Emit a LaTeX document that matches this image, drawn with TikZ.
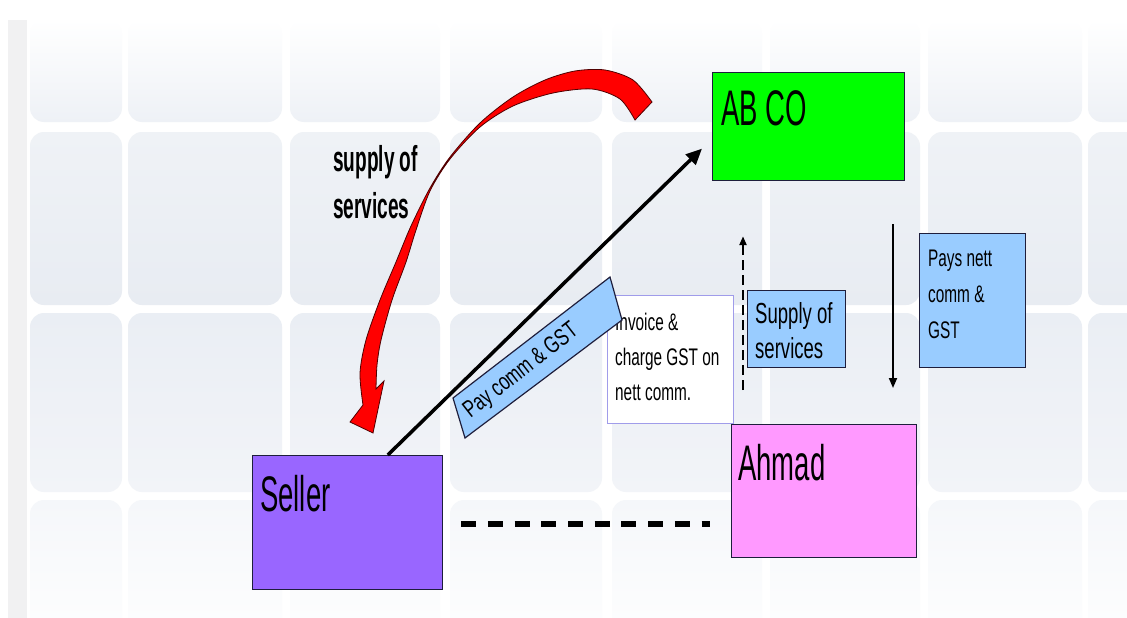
\documentclass[tikz,border=0pt]{standalone}
\usepackage{fontspec}
\setmainfont{Liberation Sans}
\newfontfamily\bigf[FakeStretch=0.55]{Liberation Sans}
\newfontfamily\smf[FakeStretch=0.64]{Liberation Sans}
\newfontfamily\payf[FakeStretch=0.72]{Liberation Sans}
\newfontfamily\bldf[FakeStretch=0.53]{Liberation Sans}
\usetikzlibrary{arrows.meta,calc}
\definecolor{abgreen}{HTML}{00FF00}
\definecolor{sellerpurple}{HTML}{9966FF}
\definecolor{ahmadpink}{HTML}{FF99FF}
\definecolor{noteblue}{HTML}{99CCFF}
\definecolor{boxline}{HTML}{1E1E3C}
\definecolor{invline}{HTML}{A09CEA}
\definecolor{redarrow}{HTML}{FF0000}
\definecolor{redline}{HTML}{500000}
\definecolor{stripgray}{HTML}{F1F1F2}
\definecolor{rowAb}{RGB}{238,241,246}
\definecolor{rowBt}{RGB}{239,242,246}
\definecolor{rowBb}{RGB}{232,236,242}
\definecolor{rowCt}{RGB}{234,238,244}
\definecolor{rowCb}{RGB}{242,244,248}
\definecolor{rowDt}{RGB}{245,247,250}
\begin{document}
\begin{tikzpicture}[x=1pt,y=-1pt,
  box/.style={draw=boxline, line width=1.2pt, inner sep=0pt, anchor=north west},
  note/.style={box, fill=noteblue},
  lbl/.style={inner sep=0pt, anchor=north west, align=left, text=black},
  bigl/.style={inner sep=0pt, anchor=base west, text=black, font=\bigf\fontsize{50}{56}\selectfont},
  flow/.style={draw=black, line width=3.5pt, -{Triangle[length=16pt,width=14pt]}},
  dashflow/.style={draw=black, line width=2.5pt, dash pattern=on 10pt off 5pt, -{Triangle[length=9pt,width=7pt]}},
  thinflow/.style={draw=black, line width=1.8pt, -{Triangle[length=10pt,width=8pt]}},
  link/.style={draw=black, line width=5.5pt, dash pattern=on 15pt off 11.7pt}
]
\useasboundingbox (0,0) rectangle (1127,618);
\fill[white] (0,0) rectangle (1127,618);
% background tiles
\begin{scope}
\clip (0,0) rectangle (1127,618);
\foreach \xa/\xb in {30/122,128/282,290/440,450/602,612/762,770/920,928/1082,1088/1160}{
  \shade[rounded corners=14pt, top color=white, bottom color=rowAb] (\xa,20) rectangle (\xb,122);
  \shade[rounded corners=14pt, top color=rowBt, bottom color=rowBb] (\xa,132) rectangle (\xb,305);
  \shade[rounded corners=14pt, top color=rowCt, bottom color=rowCb] (\xa,313) rectangle (\xb,492);
  \shade[rounded corners=14pt, top color=rowDt, bottom color=white] (\xa,500) rectangle (\xb,660);
}
\end{scope}
\fill[stripgray] (8,20) rectangle (27,618);

% boxes
\node[box, fill=abgreen, minimum width=192pt, minimum height=108pt] (abco) at (712,72) {};
\node[box, fill=sellerpurple, minimum width=190pt, minimum height=134pt] (seller) at (252,455) {};
\node[box, fill=ahmadpink, minimum width=185pt, minimum height=133pt] (ahmad) at (731,424) {};
\node[box, draw=invline, fill=white, minimum width=126pt, minimum height=128pt] (invoice) at (607,295) {};
\node[note, minimum width=98pt, minimum height=77pt] (supplybox) at (747,290) {};
\node[note, minimum width=106pt, minimum height=134pt] (paysbox) at (919,233) {};

% box texts
\node[bigl] (abcotext) at (721,125) {AB CO};
\node[bigl] (sellertext) at (260,511) {Seller};
\node[bigl] (ahmadtext) at (738,480) {Ahmad};
\node[lbl, font=\smf\fontsize{24}{35}\selectfont] (invoicetext) at (615,313) {Invoice \&\\charge GST on\\nett comm.};
\node[lbl, font=\smf\fontsize{29}{35}\selectfont] (supplytext) at (755,302) {Supply of\\services};
\node[lbl, font=\smf\fontsize{24}{36}\selectfont] (paystext) at (928,250) {Pays nett\\comm \&\\GST};
\node[lbl, font=\bldf\bfseries\fontsize{36}{47}\selectfont] (servicelabel) at (333,145) {supply of\\services};

% rotated pay note (drawn over the invoice box)
\filldraw[fill=noteblue, draw=boxline, line width=1.2pt] (453,398) -- (610,277) -- (622,320) -- (465,438) -- cycle;
\node[inner sep=0pt, anchor=base, rotate=38, font=\payf\fontsize{24}{28}\selectfont] (paytext) at (525,376) {Pay comm \& GST};

% red curved block arrow
\filldraw[fill=redarrow, draw=redline, line width=0.8pt]
  plot[smooth, tension=0.5] coordinates {(652,102) (633,80) (605,70) (575,71) (545,80) (513,97) (480,123) (450,157) (430,188) (411,226) (396,262) (380,300) (366,340) (360,373) (363,405)}
  -- (350,422) -- (373,433) -- (384,381) -- (376,389)
  -- plot[smooth, tension=0.5] coordinates {(376,389) (377,365) (381,340) (392,300) (406,262) (416,230) (430,191) (450,159) (480,127) (513,106) (553,93) (592,89) (620,99) (635,120)}
  -- cycle;

% connectors
\coordinate (sellerout) at ($(seller.north west)!0.71!(seller.north east)$);
\coordinate (abcoin) at ([xshift=-10pt,yshift=-22pt]abco.west);
\draw[flow] (sellerout) -- (abcoin);
\coordinate (xa) at (743,0);
\coordinate (xb) at (893,0);
\coordinate (yh) at (0,524);
\draw[dashflow, shorten <=34pt, shorten >=55pt] (ahmad.north -| xa) -- (abco.south -| xa);
\draw[thinflow, shorten <=43pt, shorten >=36pt] (abco.south -| xb) -- (ahmad.north -| xb);
\draw[link, shorten <=18pt, shorten >=21pt] (seller.east |- yh) -- (ahmad.west |- yh);
\end{tikzpicture}
\end{document}
